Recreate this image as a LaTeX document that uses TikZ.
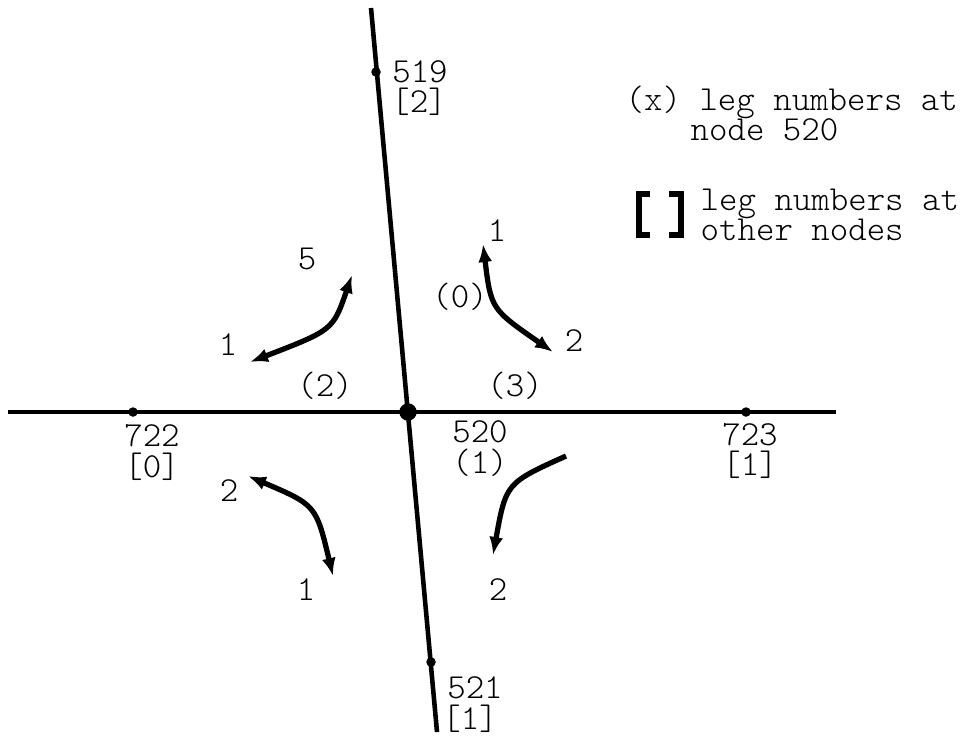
\documentclass[tikz,border=0pt]{standalone}
\usepackage{fontspec}
\setmonofont{Latin Modern Mono Light}
\usetikzlibrary{arrows.meta}

\newcommand*{\legfont}{\ttfamily\fontsize{10}{11}\selectfont}

\begin{document}
\begin{tikzpicture}
[
	x=0.1mm,
	y=-0.1mm,
	bigdot/.style={circle,draw,fill,inner sep=0pt,minimum size=1.6mm},
	smalldot/.style={circle,draw,fill,inner sep=0pt,minimum size=0.8mm},
	lbl/.style={font=\legfont,inner sep=0pt},
	turn/.style={line width=1.5pt},
	>={Latex[length=1.8mm,width=1.4mm]}
]

	\useasboundingbox (0,0) rectangle (976,740);

	% lines
	\coordinate (top) at (371,8);
	\coordinate (bot) at (437,732);
	\coordinate (left) at (8,412);
	\coordinate (right) at (836,412);
	\draw[line width=1.3pt] (top) -- (bot);
	\draw[line width=1.2pt] (left) -- (right);

	% nodes
	\node[bigdot] (n520) at (408,412) {};
	\node[smalldot] (n519) at (376,72) {};
	\node[smalldot] (n521) at (431,662) {};
	\node[smalldot] (n722) at (133,412) {};
	\node[smalldot] (n723) at (746,412) {};

	% node numbers
	\node[lbl] (t519) at (420,72) {519};
	\node[lbl] (k519) at (419,102) {[2]};
	\node[lbl] (t722) at (152,436) {722};
	\node[lbl] (k722) at (152,467) {[0]};
	\node[lbl] (t520) at (480,432) {520};
	\node[lbl] (k520) at (480,463) {(1)};
	\node[lbl] (t723) at (750,435) {723};
	\node[lbl] (k723) at (750,465) {[1]};
	\node[lbl] (t521) at (475,688) {521};
	\node[lbl] (k521) at (470,719) {[1]};

	% leg numbers at 520
	\node[lbl] (k0) at (460,297) {(0)};
	\node[lbl] (k2) at (325,386) {(2)};
	\node[lbl] (k3) at (515,386) {(3)};

	% turns
	\coordinate (ulA) at (250,362);
	\coordinate (ulB) at (352,275);
	\coordinate (urA) at (483,244);
	\coordinate (urB) at (553,352);
	\coordinate (llA) at (248,476);
	\coordinate (llB) at (333,576);
	\coordinate (lrA) at (566,456);
	\coordinate (lrB) at (493,555);
	\draw[turn,<->] (ulA) .. controls (333,330) .. (ulB);
	\draw[turn,<->] (urA) .. controls (491,309) .. (urB);
	\draw[turn,<->] (llA) .. controls (316,505) .. (llB);
	\draw[turn,->] (lrA) .. controls (506,483) .. (lrB);

	\node[lbl] (ul5) at (307,259) {5};
	\node[lbl] (ul1) at (228,345) {1};
	\node[lbl] (ur1) at (497,231) {1};
	\node[lbl] (ur2) at (574,341) {2};
	\node[lbl] (ll2) at (229,491) {2};
	\node[lbl] (ll1) at (306,590) {1};
	\node[lbl] (lr2) at (498,590) {2};

	% key
	\node[lbl,anchor=west] (key1) at (625,102) {(x) leg numbers at};
	\node[lbl,anchor=west] (key1b) at (690,130) {node 520};
	\draw[line width=1.6pt] (650,194) -| (639,235) -- (650,235);
	\draw[line width=1.6pt] (669,194) -| (681,235) -- (669,235);
	\node[lbl,anchor=west] (key2) at (700,204) {leg numbers at};
	\node[lbl,anchor=west] (key2b) at (700,230) {other nodes};

\end{tikzpicture}
\end{document}
